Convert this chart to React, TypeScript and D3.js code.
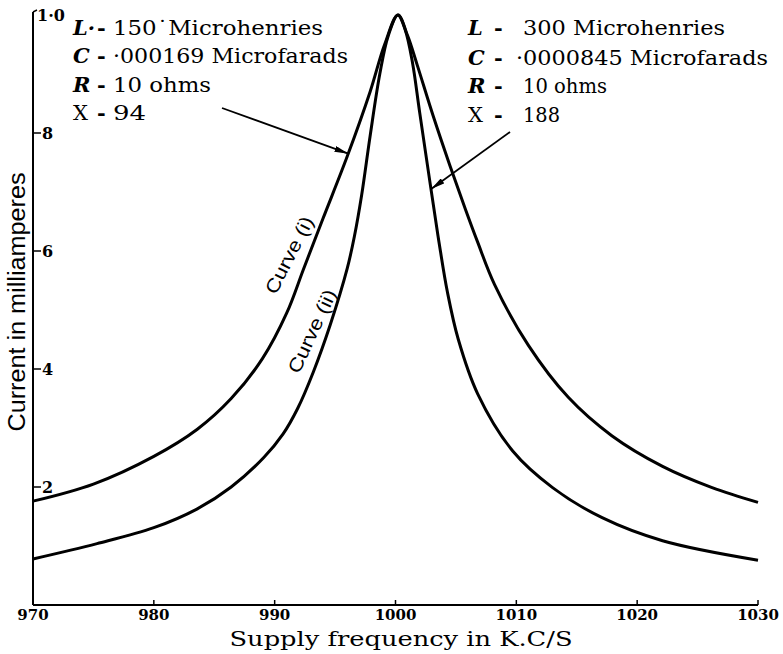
import React from "react";
import * as d3 from "d3";

// Curve (i): L = 150 µH, C = .000169 µF, R = 10 ohms
const curveIFreq = [970, 975, 980, 983.6, 986.4, 989, 991, 992.4, 994, 996, 997.9, 999.1, 1000.2, 1001, 1001.8, 1003.1, 1004.5, 1005.8, 1006.8, 1008.2, 1011, 1014.3, 1017.9, 1022.1, 1026.2, 1030];
const curveICurrent = [0.176, 0.205, 0.252, 0.298, 0.35, 0.418, 0.495, 0.57, 0.655, 0.76, 0.87, 0.95, 1.0, 0.965, 0.915, 0.83, 0.745, 0.67, 0.615, 0.543, 0.44, 0.352, 0.287, 0.235, 0.199, 0.174];

// Curve (ii): L = 300 µH, C = .0000845 µF, R = 10 ohms
const curveIIFreq = [970, 975.3, 980, 983.6, 986.4, 989.1, 990.7, 991.9, 993.2, 994.6, 996, 996.6, 997.2, 997.9, 998.7, 999.4, 1000.2, 1000.8, 1001.4, 1002, 1002.9, 1003.6, 1004.3, 1005.2, 1006.8, 1009.7, 1013, 1017.1, 1022.1, 1030];
const curveIICurrent = [0.078, 0.104, 0.131, 0.163, 0.2, 0.25, 0.29, 0.333, 0.395, 0.475, 0.57, 0.625, 0.695, 0.795, 0.9, 0.965, 1.0, 0.975, 0.92, 0.835, 0.71, 0.615, 0.53, 0.45, 0.358, 0.261, 0.199, 0.148, 0.109, 0.076];

const xTicks = [970, 980, 990, 1000, 1010, 1020, 1030];
const yTicks = [0.2, 0.4, 0.6, 0.8, 1.0];
const yTickLabels = ["2", "4", "6", "8", "1·0"];

const leftBlock = [
  { sym: "L·", italic: true, value: "150˙Microhenries" },
  { sym: "C", italic: true, value: "·000169 Microfarads" },
  { sym: "R", italic: true, value: "10 ohms" },
  { sym: "X", italic: false, value: "94" },
];
const rightBlock = [
  { sym: "L", italic: true, value: "300 Microhenries" },
  { sym: "C", italic: true, value: "·0000845 Microfarads" },
  { sym: "R", italic: true, value: "10 ohms" },
  { sym: "X", italic: false, value: "188" },
];

const W = 783;
const H = 654;
const SERIF = "'DejaVu Serif', serif";
const SANS = "'Liberation Sans', Arial, sans-serif";

export default function App() {
  const x = d3.scaleLinear().domain([970, 1030]).range([33, 758]);
  const y = d3.scaleLinear().domain([0, 1]).range([605, 15]);
  const line = d3
    .line<[number, number]>()
    .x((d) => x(d[0]))
    .y((d) => y(d[1]))
    .curve(d3.curveCatmullRom.alpha(0.5));
  const dI = line(curveIFreq.map((f, i) => [f, curveICurrent[i]] as [number, number])) || "";
  const dII = line(curveIIFreq.map((f, i) => [f, curveIICurrent[i]] as [number, number])) || "";

  const leftLen = [210, 235, 98, 33];
  const rightLen = [202, 252, 84, 37];
  const baselines = [35, 63, 92, 120];
  const rbaselines = [35, 65, 93, 122];

  return (
    <svg width={W} height={H} style={{ position: "absolute", left: 0, top: 0, background: "#fff" }}>
      <defs>
        <marker id="ah" viewBox="0 0 14 6" refX="14" refY="3" markerWidth="14" markerHeight="6" markerUnits="userSpaceOnUse" orient="auto">
          <path d="M0,0 L14,3 L0,6 Z" fill="#000" />
        </marker>
      </defs>
      <rect x={0} y={0} width={W} height={H} fill="#fff" />
      {/* axes */}
      <line x1={x(970)} x2={x(970)} y1={y(1) - 3} y2={y(0)} stroke="#000" strokeWidth={2} />
      <line x1={x(970)} x2={x(1030)} y1={y(0)} y2={y(0)} stroke="#000" strokeWidth={2} />
      <line x1={x(970)} x2={x(970) + 4} y1={y(1) - 3} y2={y(1) - 5} stroke="#000" strokeWidth={1.5} />
      {xTicks.map((t) => (
        <g key={t}>
          <line x1={x(t)} x2={x(t)} y1={y(0) - 5} y2={y(0)} stroke="#000" strokeWidth={1.5} />
          <text x={x(t)} y={620} textAnchor="middle" fontFamily={SERIF} fontWeight="bold" fontSize={15}>
            {t}
          </text>
        </g>
      ))}
      {yTicks.map((t, i) => (
        <g key={t}>
          {t < 1 && <line x1={x(970)} x2={x(970) + 8} y1={y(t)} y2={y(t)} stroke="#000" strokeWidth={1.5} />}
          <text x={t < 1 ? x(970) + 9 : x(970) + 4} y={y(t) + 6} fontFamily={SERIF} fontWeight="bold" fontSize={16}>
            {yTickLabels[i]}
          </text>
        </g>
      ))}
      {/* axis titles */}
      <text x={401} y={646} textAnchor="middle" fontFamily={SERIF} fontSize={20} textLength={343} lengthAdjust="spacingAndGlyphs">
        Supply frequency in K.C/S
      </text>
      <text transform="translate(25,302) rotate(-90)" textAnchor="middle" fontFamily={SANS} fontSize={23} textLength={259} lengthAdjust="spacingAndGlyphs">
        Current in milliamperes
      </text>
      {/* curves */}
      <path d={dI} fill="none" stroke="#000" strokeWidth={3} />
      <path d={dII} fill="none" stroke="#000" strokeWidth={3} />
      {/* curve labels */}
      <text transform="translate(295,258) rotate(-63)" textAnchor="middle" fontFamily={SANS} fontSize={19} textLength={84} lengthAdjust="spacingAndGlyphs">
        Curve (i)
      </text>
      <text transform="translate(318,334) rotate(-65)" textAnchor="middle" fontFamily={SANS} fontSize={19} textLength={90} lengthAdjust="spacingAndGlyphs">
        Curve (ii)
      </text>
      {/* annotation blocks */}
      {leftBlock.map((r, i) => (
        <g key={"l" + i}>
          <text x={73} y={baselines[i]} fontFamily={SERIF} fontSize={21} fontStyle={r.italic ? "italic" : "normal"} fontWeight={r.italic ? "bold" : "normal"}>
            {r.sym}
          </text>
          <text x={97} y={baselines[i]} fontFamily={SERIF} fontSize={21} fontWeight="bold">-</text>
          <text x={113} y={baselines[i]} fontFamily={SERIF} fontSize={21} textLength={leftLen[i]} lengthAdjust="spacingAndGlyphs">
            {r.value}
          </text>
        </g>
      ))}
      {rightBlock.map((r, i) => (
        <g key={"r" + i}>
          <text x={468} y={rbaselines[i]} fontFamily={SERIF} fontSize={21} fontStyle={r.italic ? "italic" : "normal"} fontWeight={r.italic ? "bold" : "normal"}>
            {r.sym}
          </text>
          <text x={494} y={rbaselines[i]} fontFamily={SERIF} fontSize={21} fontWeight="bold">-</text>
          <text x={i === 1 ? 516 : 523} y={rbaselines[i]} fontFamily={SERIF} fontSize={21} textLength={rightLen[i]} lengthAdjust="spacingAndGlyphs">
            {r.value}
          </text>
        </g>
      ))}
      {/* arrows */}
      <line x1={222} y1={108} x2={x(996.1)} y2={y(0.765)} stroke="#000" strokeWidth={1.8} markerEnd="url(#ah)" />
      <line x1={510} y1={132} x2={x(1002.95)} y2={y(0.705)} stroke="#000" strokeWidth={1.8} markerEnd="url(#ah)" />
    </svg>
  );
}
